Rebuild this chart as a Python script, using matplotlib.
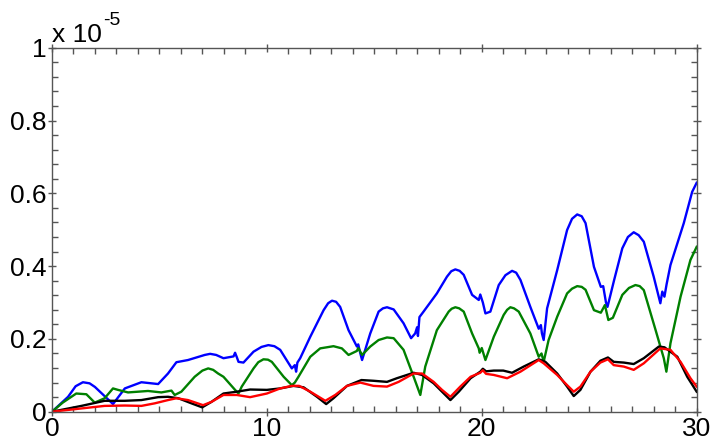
import matplotlib
matplotlib.use('Agg')
import matplotlib.pyplot as plt
from matplotlib.ticker import MultipleLocator

plt.rcParams['font.family'] = ['Liberation Sans', 'DejaVu Sans']

# values in units of 1e-5
blueX = [0, 0.75, 1.1, 1.44, 1.75, 2.0, 2.84, 3.39, 4.16, 4.94, 5.4, 5.79, 6.33, 7.11, 7.36,
         7.64, 7.98, 8.45, 8.52, 8.6, 8.68, 8.91, 9.38, 9.75, 10.07, 10.35, 10.62, 11.16, 11.3,
         11.36, 11.42, 11.55, 12.02, 12.64, 12.85, 13.03, 13.22, 13.41, 13.8, 14.19, 14.25,
         14.35, 14.43, 14.81, 15.2, 15.4, 15.59, 15.9, 16.36, 16.71, 16.9, 16.99, 17.03, 17.1,
         17.29, 17.91, 18.38, 18.58, 18.77, 18.97, 19.16, 19.55, 19.86, 19.93, 20.05, 20.17,
         20.4, 20.79, 21.1, 21.41, 21.6, 21.8, 22.26, 22.65, 22.75, 22.8, 22.88, 23.04, 23.51,
         23.97, 24.2, 24.44, 24.65, 24.83, 25.22, 25.54, 25.65, 25.78, 25.85, 26.16, 26.54,
         26.8, 27.07, 27.3, 27.54, 28.0, 28.31, 28.4, 28.5, 28.6, 28.78, 29.4, 29.79, 30]
blueY = [0, 0.041, 0.070, 0.081, 0.078, 0.068, 0.021, 0.064, 0.081, 0.076, 0.105, 0.136,
         0.142, 0.156, 0.159, 0.156, 0.147, 0.152, 0.162, 0.150, 0.137, 0.135, 0.165, 0.178,
         0.183, 0.180, 0.170, 0.119, 0.128, 0.110, 0.135, 0.147, 0.206, 0.279, 0.298, 0.305,
         0.302, 0.288, 0.224, 0.179, 0.185, 0.160, 0.142, 0.215, 0.275, 0.284, 0.287, 0.281,
         0.243, 0.202, 0.215, 0.232, 0.208, 0.260, 0.275, 0.325, 0.371, 0.386, 0.391, 0.387,
         0.376, 0.321, 0.307, 0.322, 0.300, 0.270, 0.275, 0.348, 0.375, 0.387, 0.382, 0.362,
         0.288, 0.228, 0.238, 0.215, 0.197, 0.284, 0.389, 0.499, 0.530, 0.542, 0.537, 0.518,
         0.398, 0.343, 0.345, 0.300, 0.288, 0.362, 0.449, 0.480, 0.493, 0.485, 0.467, 0.371,
         0.298, 0.330, 0.316, 0.350, 0.403, 0.518, 0.604, 0.629]

greenX = [0, 0.5, 1.13, 1.6, 1.99, 2.45, 2.84, 3.07, 3.54, 4.47, 5.09, 5.56, 5.71, 6.02, 6.64,
          7.0, 7.27, 7.5, 7.73, 7.98, 8.52, 8.68, 8.83, 9.38, 9.6, 9.84, 10.05, 10.23, 10.78,
          11.16, 11.3, 11.47, 12.02, 12.48, 13.1, 13.49, 13.8, 14.19, 14.25, 14.43, 14.81,
          15.2, 15.59, 15.9, 16.36, 16.83, 17.14, 17.37, 17.91, 18.46, 18.6, 18.77, 18.95,
          19.16, 19.55, 19.86, 19.9, 20.0, 20.17, 20.56, 21.02, 21.18, 21.33, 21.5, 21.72,
          22.26, 22.65, 22.78, 22.88, 23.11, 23.51, 23.97, 24.2, 24.44, 24.65, 24.83, 25.22,
          25.54, 25.73, 25.89, 26.1, 26.54, 26.85, 27.15, 27.35, 27.54, 28.09, 28.47, 28.59,
          28.78, 29.25, 29.71, 30]
greenY = [0, 0.025, 0.050, 0.048, 0.025, 0.037, 0.064, 0.060, 0.053, 0.057, 0.053, 0.058,
          0.046, 0.055, 0.096, 0.113, 0.119, 0.115, 0.105, 0.096, 0.060, 0.050, 0.069, 0.119,
          0.136, 0.144, 0.143, 0.137, 0.096, 0.073, 0.080, 0.096, 0.151, 0.174, 0.180, 0.174,
          0.156, 0.167, 0.175, 0.156, 0.179, 0.197, 0.204, 0.202, 0.170, 0.096, 0.046, 0.124,
          0.224, 0.275, 0.283, 0.287, 0.284, 0.275, 0.215, 0.174, 0.162, 0.175, 0.142, 0.206,
          0.266, 0.280, 0.287, 0.284, 0.275, 0.215, 0.151, 0.160, 0.137, 0.197, 0.261, 0.325,
          0.338, 0.345, 0.343, 0.335, 0.279, 0.272, 0.293, 0.252, 0.258, 0.321, 0.340, 0.348,
          0.345, 0.334, 0.224, 0.147, 0.110, 0.188, 0.316, 0.417, 0.453]

blackX = [0, 1.37, 2.45, 3.39, 4.16, 4.94, 5.4, 5.88, 6.49, 6.99, 7.42, 7.98, 8.6, 9.22, 10.0,
          10.62, 11.24, 11.71, 12.33, 12.76, 13.1, 13.73, 14.19, 14.4, 14.96, 15.59, 16.05,
          16.83, 17.22, 17.76, 18.15, 18.54, 18.93, 19.48, 19.93, 20.05, 20.2, 20.56, 21.0,
          21.41, 21.95, 22.65, 22.96, 23.51, 23.97, 24.28, 24.59, 25.06, 25.52, 25.87, 26.14,
          26.61, 27.07, 27.54, 28.24, 28.5, 29.1, 29.56, 30]
blackY = [0, 0.016, 0.030, 0.030, 0.032, 0.040, 0.041, 0.037, 0.023, 0.012, 0.027, 0.050,
          0.055, 0.061, 0.060, 0.064, 0.071, 0.067, 0.041, 0.021, 0.037, 0.071, 0.082, 0.087,
          0.085, 0.082, 0.092, 0.107, 0.101, 0.078, 0.055, 0.032, 0.055, 0.092, 0.110, 0.118,
          0.111, 0.113, 0.113, 0.107, 0.124, 0.144, 0.137, 0.105, 0.069, 0.043, 0.060, 0.110,
          0.140, 0.149, 0.137, 0.135, 0.131, 0.147, 0.179, 0.177, 0.151, 0.096, 0.055]

redX = [0, 1.37, 2.45, 3.39, 4.16, 4.78, 5.4, 5.79, 6.33, 7.03, 7.42, 7.98, 8.6, 9.22, 10.0,
        10.62, 11.16, 11.5, 12.02, 12.72, 13.18, 13.73, 14.35, 14.96, 15.59, 16.13, 16.83,
        17.22, 17.76, 18.15, 18.54, 19.0, 19.48, 19.93, 20.05, 20.2, 20.56, 21.18, 21.8,
        22.65, 22.88, 23.51, 23.97, 24.28, 24.59, 25.06, 25.52, 25.87, 26.14, 26.61, 27.07,
        27.54, 28.31, 28.78, 29.25, 29.71, 30]
redY = [0, 0.009, 0.016, 0.017, 0.016, 0.023, 0.032, 0.037, 0.032, 0.018, 0.027, 0.046,
        0.046, 0.040, 0.050, 0.064, 0.071, 0.071, 0.055, 0.030, 0.046, 0.071, 0.080, 0.071,
        0.069, 0.082, 0.105, 0.105, 0.082, 0.060, 0.041, 0.069, 0.096, 0.107, 0.114, 0.104,
        0.101, 0.092, 0.110, 0.142, 0.133, 0.101, 0.073, 0.055, 0.069, 0.110, 0.135, 0.144,
        0.128, 0.124, 0.115, 0.133, 0.174, 0.170, 0.137, 0.092, 0.069]

yTicks = [0, 0.2, 0.4, 0.6, 0.8, 1]
yTickLabels = ['0', '0.2', '0.4', '0.6', '0.8', '1']

fig = plt.figure(figsize=(7.13, 4.41), dpi=100)
ax = fig.add_axes([0.0729, 0.0664, 0.9042, 0.8254])

ax.plot(blueX, blueY, color='#0000ff', linewidth=1.7)
ax.plot(greenX, greenY, color='#008000', linewidth=1.7)
ax.plot(blackX, blackY, color='black', linewidth=1.7)
ax.plot(redX, redY, color='#ff0000', linewidth=1.7)

ax.set_xlim(0, 30)
ax.set_ylim(0, 1)
ax.xaxis.set_major_locator(MultipleLocator(10))
ax.xaxis.set_minor_locator(MultipleLocator(1))
ax.set_yticks(yTicks)
ax.set_yticklabels(yTickLabels)
ax.yaxis.set_minor_locator(MultipleLocator(0.04))

ax.tick_params(which='both', top=True, right=True, colors='#555555', labelcolor='black',
               labelsize=19)
ax.tick_params(which='major', direction='inout', length=6, width=1, pad=1)
ax.tick_params(which='minor', direction='in', length=4, width=1)
for sp in ax.spines.values():
    sp.set_color('#555555')
    sp.set_linewidth(1)

fig.text(0.073, 0.905, 'x 10', fontsize=19, ha='left', va='baseline')
fig.text(0.144, 0.943, '-5', fontsize=14, ha='left', va='baseline')

fig.savefig('out.png', dpi=100)
